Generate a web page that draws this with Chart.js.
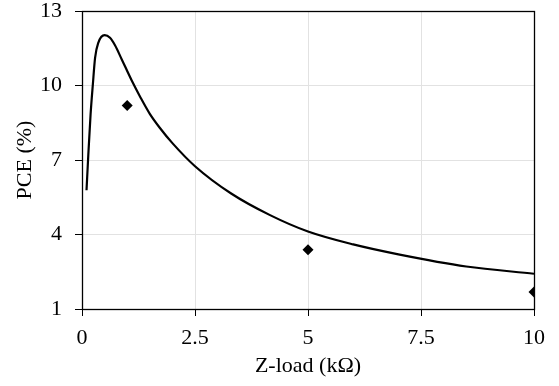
<!DOCTYPE html>
<html>
<head>
<meta charset="utf-8">
<script src="https://cdn.jsdelivr.net/npm/chart.js@4/dist/chart.umd.min.js"></script>
<style>
  html, body { margin: 0; padding: 0; background: #fff; }
  #wrap { width: 559px; height: 386px; }
</style>
</head>
<body>
<div id="wrap"><canvas id="c" width="559" height="386"></canvas></div>
<script>
// Model curve
const curveX = [0.1, 0.14, 0.19, 0.24, 0.29, 0.36, 0.5, 0.62, 0.73, 0.88, 1.1, 1.3, 1.5, 1.72, 2.0, 2.5, 3.3, 4.16, 5.0, 6.0, 7.0, 8.5, 10];
const curveY = [5.78, 7.22, 8.84, 10.04, 11.12, 11.72, 12.03, 11.92, 11.62, 11.05, 10.2, 9.5, 8.86, 8.3, 7.68, 6.75, 5.65, 4.78, 4.12, 3.6, 3.2, 2.71, 2.42];
// Measured points
const measX = [1, 5, 10];
const measY = [9.19, 3.39, 1.68];
// Axis ticks
const xTicks = [0, 2.5, 5, 7.5, 10];
const yTicks = [1, 4, 7, 10, 13];

const FONT = "'Liberation Serif', 'Times New Roman', serif";

const borderPlugin = {
  id: 'frame',
  afterDatasetsDraw(chart) {
    const a = chart.chartArea, ctx = chart.ctx;
    ctx.save();
    ctx.strokeStyle = '#000';
    ctx.lineWidth = 1.3;
    ctx.strokeRect(Math.round(a.left) + 0.5, Math.round(a.top) + 0.5, Math.round(a.right - a.left), Math.round(a.bottom - a.top));
    ctx.restore();
  }
};

new Chart(document.getElementById('c'), {
  type: 'scatter',
  data: {
    datasets: [
      {
        data: curveX.map((x, i) => ({x, y: curveY[i]})),
        showLine: true,
        borderColor: '#000',
        borderWidth: 2.2,
        pointRadius: 0,
        cubicInterpolationMode: 'monotone',
        fill: false,
        order: 2
      },
      {
        data: measX.map((x, i) => ({x, y: measY[i]})),
        showLine: false,
        pointStyle: 'rectRot',
        pointRadius: 5.5,
        backgroundColor: '#000',
        borderColor: '#000',
        borderWidth: 0,
        order: 1
      }
    ]
  },
  options: {
    responsive: false,
    animation: false,
    devicePixelRatio: 1,
    layout: { padding: { left: 12, right: 25, top: 0, bottom: 0 } },
    plugins: { legend: { display: false }, tooltip: { enabled: false } },
    scales: {
      x: {
        type: 'linear',
        min: 0, max: 10,
        afterBuildTicks: s => { s.ticks = xTicks.map(v => ({value: v})); },
        afterFit: s => { s.height = 77; },
        grid: { color: '#e2e2e2', lineWidth: 1, tickColor: '#000', tickLength: 7, drawTicks: true },
        border: { display: false },
        ticks: { color: '#000', font: { family: FONT, size: 22 }, padding: 9, maxRotation: 0 },
        title: { display: true, text: 'Z-load (kΩ)', color: '#000', font: { family: FONT, size: 22 }, padding: { top: 0, bottom: 7 } }
      },
      y: {
        type: 'linear',
        min: 1, max: 13,
        afterBuildTicks: s => { s.ticks = yTicks.map(v => ({value: v})); },
        afterFit: s => { s.width = 70; s.paddingTop = 11; s.paddingBottom = 0; },
        grid: { color: '#e2e2e2', lineWidth: 1, tickColor: '#000', tickLength: 7, drawTicks: true },
        border: { display: false },
        ticks: { color: '#000', font: { family: FONT, size: 22 }, padding: 13 },
        title: { display: true, text: 'PCE (%)', color: '#000', font: { family: FONT, size: 22 }, padding: 0 }
      }
    }
  },
  plugins: [borderPlugin]
});
</script>
</body>
</html>
